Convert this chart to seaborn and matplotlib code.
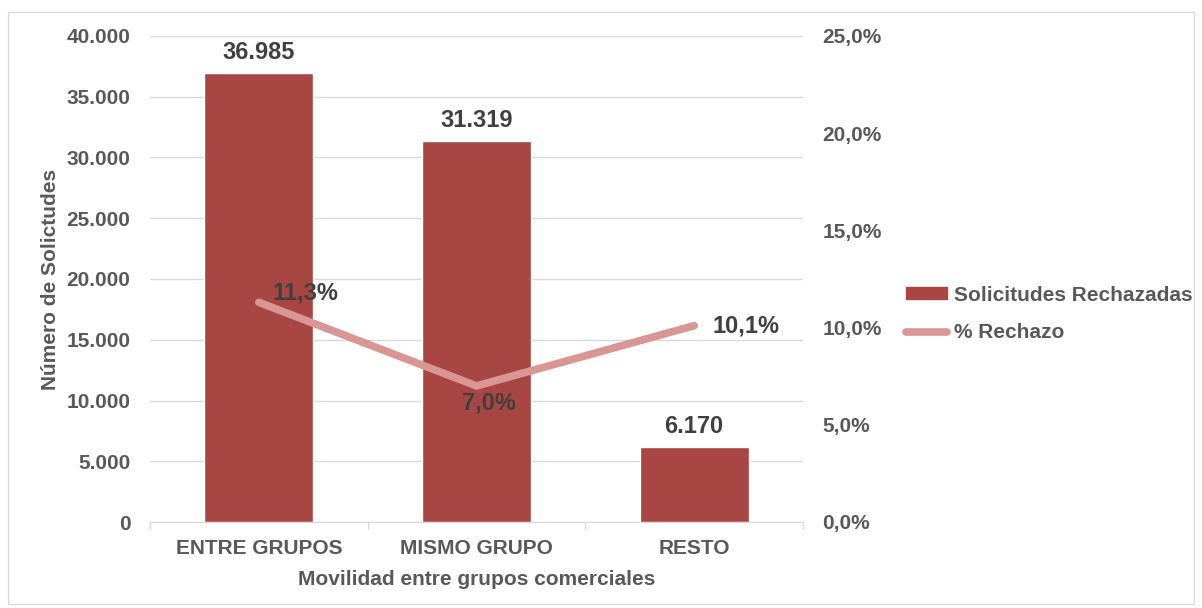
import pandas as pd
import matplotlib.pyplot as plt
import matplotlib.patches as mpatches
from matplotlib.lines import Line2D
import matplotlib.ticker as mticker
import seaborn as sns

# Data
categorias = ['ENTRE GRUPOS', 'MISMO GRUPO', 'RESTO']
rechazadas = [36985, 31319, 6170]
pct_rechazo = [11.3, 7.0, 10.1]

bar_color = '#A84643'
line_color = '#D99694'
txt = '#595959'

sns.set_style('white')
plt.rcParams['font.family'] = ['Liberation Sans', 'DejaVu Sans']
plt.rcParams['font.weight'] = 'bold'

df = pd.DataFrame({'cat': categorias, 'n': rechazadas, 'pct': pct_rechazo})

fig = plt.figure(figsize=(12.02, 6.08), dpi=100)
ax = fig.add_axes([150 / 1202, 1 - 522 / 608, 653 / 1202, 486 / 608])

sns.barplot(data=df, x='cat', y='n', color=bar_color, width=0.5, saturation=1, ax=ax)
ax.set_ylim(0, 40000)
ax.set_xlim(-0.5, 2.5)
ax.yaxis.set_major_locator(mticker.MultipleLocator(5000))
ax.yaxis.set_major_formatter(mticker.FuncFormatter(lambda v, p: f'{int(v):,}'.replace(',', '.')))
ax.grid(axis='y', color='#D9D9D9', linewidth=1)
ax.set_axisbelow(True)
for s in ['top', 'right', 'left']:
    ax.spines[s].set_visible(False)
ax.spines['bottom'].set_color('#D9D9D9')
ax.tick_params(axis='y', length=0, pad=14, labelsize=15, labelcolor=txt)
ax.tick_params(axis='x', length=0, pad=12, labelsize=15, labelcolor=txt)
# category separator ticks
for xv in [-0.5, 0.5, 1.5, 2.5]:
    ax.plot([xv, xv], [0, -600], color='#D9D9D9', lw=1, clip_on=False)
ax.set_xlabel('Movilidad entre grupos comerciales', fontsize=15, color=txt, fontweight='bold', labelpad=9)
ax.set_ylabel('Número de Solictudes', fontsize=15, color=txt, fontweight='bold', labelpad=5)

for i, v in enumerate(rechazadas):
    ax.text(i, v + 750, f'{v:,}'.replace(',', '.'), ha='center', va='bottom',
            fontsize=17, color='#404040', fontweight='bold')

ax2 = ax.twinx()
sns.lineplot(x=[0, 1, 2], y=pct_rechazo, color=line_color, linewidth=5.5, ax=ax2,
             solid_capstyle='round')
ax2.set_ylim(0, 25)
ax2.yaxis.set_major_locator(mticker.MultipleLocator(5))
ax2.yaxis.set_major_formatter(mticker.FuncFormatter(lambda v, p: f'{v:.1f}%'.replace('.', ',')))
ax2.tick_params(axis='y', length=0, pad=14, labelsize=15, labelcolor=txt)
for s in ax2.spines.values():
    s.set_visible(False)
ax2.set_xlim(-0.5, 2.5)

offsets = [(0.064, 0.48, 'left'), (0.058, -0.9, 'center'), (0.084, 0.0, 'left')]
for i, v in enumerate(pct_rechazo):
    dx, dy, ha = offsets[i]
    ax2.text(i + dx, v + dy, f'{v:.1f}%'.replace('.', ','), ha=ha, va='center',
             fontsize=17, color='#404040', fontweight='bold')

handles = [mpatches.Patch(color=bar_color, label='Solicitudes Rechazadas'),
           Line2D([0], [0], color=line_color, lw=5.5, solid_capstyle='round', label='% Rechazo')]
leg = fig.legend(handles=handles, loc='center left', bbox_to_anchor=(887 / 1202, 1 - 314 / 608),
                 frameon=False, fontsize=15, handlelength=2.0, handleheight=0.5,
                 handletextpad=0.3, labelspacing=0.9)
for t in leg.get_texts():
    t.set_color(txt)
    t.set_fontweight('bold')

fig.patches.append(mpatches.Rectangle((8 / 1202, 1 - 604 / 608), 1186 / 1202, 592 / 608,
                                      transform=fig.transFigure, fill=False,
                                      edgecolor='#D9D9D9', lw=1))

plt.savefig('out.png', dpi=100)
